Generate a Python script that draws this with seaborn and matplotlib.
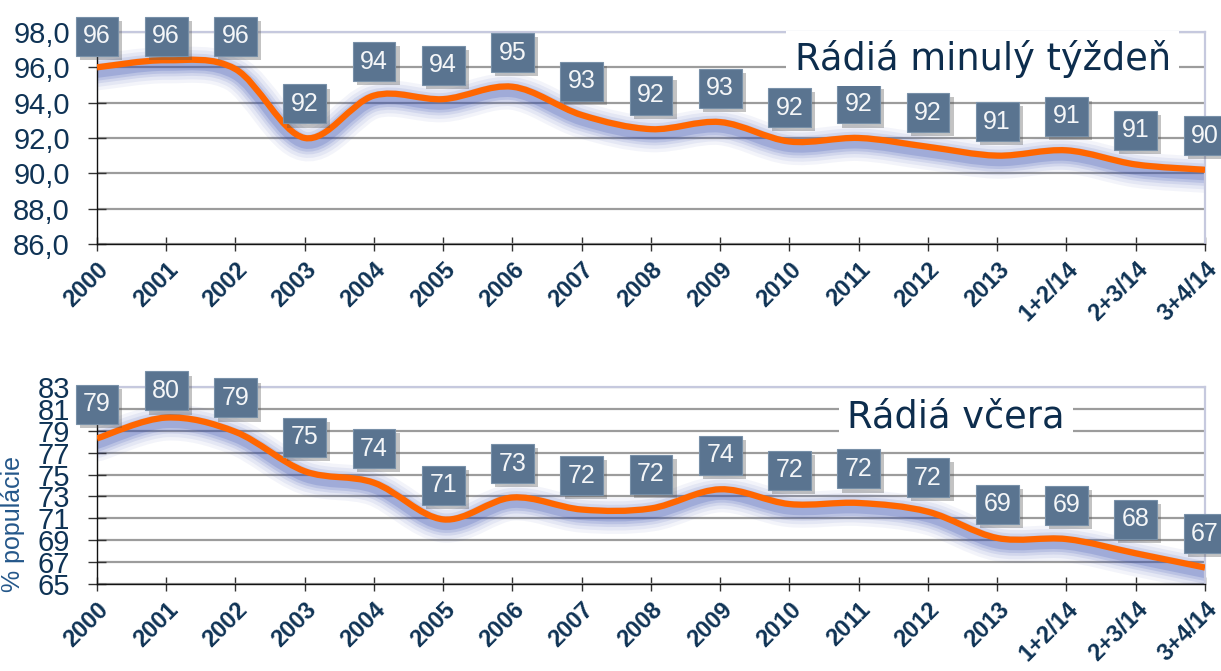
import numpy as np
import matplotlib
matplotlib.use("Agg")
import matplotlib.pyplot as plt
import matplotlib.patheffects as pe
import matplotlib.transforms as mtransforms
from matplotlib.path import Path
from matplotlib.patches import PathPatch
import seaborn as sns

categories = ["2000", "2001", "2002", "2003", "2004", "2005", "2006", "2007", "2008",
              "2009", "2010", "2011", "2012", "2013", "1+2/14", "2+3/14", "3+4/14"]

# Rádiá minulý týždeň
week_values = [96.0, 96.4, 95.9, 92.0, 94.4, 94.2, 94.9, 93.3, 92.5,
               92.9, 91.8, 92.0, 91.5, 91.0, 91.3, 90.5, 90.2]
week_labels = ["96", "96", "96", "92", "94", "94", "95", "93", "92",
               "93", "92", "92", "92", "91", "91", "91", "90"]
week_yticks = [86, 88, 90, 92, 94, 96, 98]

# Rádiá včera
yday_values = [78.3, 80.2, 78.9, 75.3, 74.25, 70.9, 72.9, 71.8, 71.9,
               73.65, 72.3, 72.4, 71.6, 69.2, 69.1, 67.8, 66.5]
yday_labels = ["79", "80", "79", "75", "74", "71", "73", "72", "72",
               "74", "72", "72", "72", "69", "69", "68", "67"]
yday_yticks = [65, 67, 69, 71, 73, 75, 77, 79, 81, 83]

sns.set_theme(style="white")
plt.rcParams["font.family"] = ["Liberation Sans", "DejaVu Sans"]

NAVY = "#0f3355"
ORANGE = "#ff6600"

fig = plt.figure(figsize=(12.21, 6.71), dpi=100)
ax_top = fig.add_axes([0.0794, 0.6364, 0.9075, 0.3159])
ax_bot = fig.add_axes([0.0794, 0.1297, 0.9075, 0.2936])


def smooth_path(xs, ys):
    # bezier through the points, like the excel "smoothed line" option
    pts = np.column_stack([xs, ys]).astype(float)
    n = len(pts)
    verts = [pts[0]]
    codes = [Path.MOVETO]
    for i in range(n - 1):
        p0 = pts[max(i - 1, 0)]
        p1 = pts[i]
        p2 = pts[i + 1]
        p3 = pts[min(i + 2, n - 1)]
        verts += [p1 + (p2 - p0) / 6, p2 - (p3 - p1) / 6, p2]
        codes += [Path.CURVE4] * 3
    return Path(verts, codes)


def draw_panel(ax, values, labels, yticks, ylabels):
    x = np.arange(len(categories))
    ax.set_xlim(0, len(categories) - 1)
    ax.set_ylim(yticks[0], yticks[-1])

    path = smooth_path(x, values)
    glow = mtransforms.offset_copy(ax.transData, fig=fig, x=0, y=-5, units="dots")
    for lw, a in [(26, 0.06), (21, 0.08), (16, 0.11), (12, 0.15), (8, 0.2)]:
        ax.add_patch(PathPatch(path, fill=False, ec="#3a50b0", lw=lw, alpha=a,
                               transform=glow, capstyle="round", zorder=2))
    ax.add_patch(PathPatch(path, fill=False, ec=ORANGE, lw=4.5, capstyle="butt", zorder=3))

    # value boxes, pushed down when they would go above the plot area
    ppu = ax.bbox.height / (yticks[-1] - yticks[0])
    for i, (v, lab) in enumerate(zip(values, labels)):
        off = min(34, (yticks[-1] - v) * ppu - 4)
        t = ax.annotate(lab, xy=(i, v), xytext=(0, off), textcoords="offset pixels",
                        ha="center", va="center", fontsize=18, color="#f4f6f8",
                        bbox=dict(boxstyle="square,pad=0.3", fc="#5a7490", ec="#7890a8", lw=0.8),
                        annotation_clip=False, zorder=5)
        t.get_bbox_patch().set_path_effects(
            [pe.SimplePatchShadow(offset=(3, -3), shadow_rgbFace="#555555", alpha=0.35), pe.Normal()])

    ax.set_xticks(x, labels=categories)
    ax.set_yticks(yticks, labels=ylabels)
    ax.yaxis.grid(True, color="#9c9c9c", lw=1.6)
    ax.set_axisbelow(True)
    for s in ["top", "right"]:
        ax.spines[s].set_color("#c6c9de")
        ax.spines[s].set_linewidth(1.6)
    for s in ["left", "bottom"]:
        ax.spines[s].set_color("#111111")
        ax.spines[s].set_linewidth(1.0)
    ax.tick_params(axis="y", left=True, direction="inout", length=13, width=1, color="#333333",
                   pad=13, labelsize=21, labelcolor=NAVY)
    ax.tick_params(axis="x", bottom=True, direction="inout", length=10, width=1, color="#333333",
                   pad=5, labelsize=17, labelcolor=NAVY)
    for lab in ax.get_xticklabels():
        lab.set_rotation(45)
        lab.set_ha("right")
        lab.set_va("top")
        lab.set_rotation_mode("anchor")
        lab.set_fontweight("bold")


draw_panel(ax_top, week_values, week_labels, week_yticks,
           [f"{t:.1f}".replace(".", ",") for t in week_yticks])
draw_panel(ax_bot, yday_values, yday_labels, yday_yticks,
           [str(t) for t in yday_yticks])

fig.text(0.651, 0.896, "Rádiá minulý týždeň", fontsize=26.5, family="DejaVu Sans",
         color="#0d2d4d", va="baseline", bbox=dict(fc="white", ec="none", pad=6))
fig.text(0.694, 0.3636, "Rádiá včera", fontsize=26.5, family="DejaVu Sans",
         color="#0d2d4d", va="baseline", bbox=dict(fc="white", ec="none", pad=6))
fig.text(0.011, 0.219, "% populácie", rotation=90, ha="center", va="center",
         fontsize=18, color="#24578a")

fig.savefig("out.png", dpi=100)
